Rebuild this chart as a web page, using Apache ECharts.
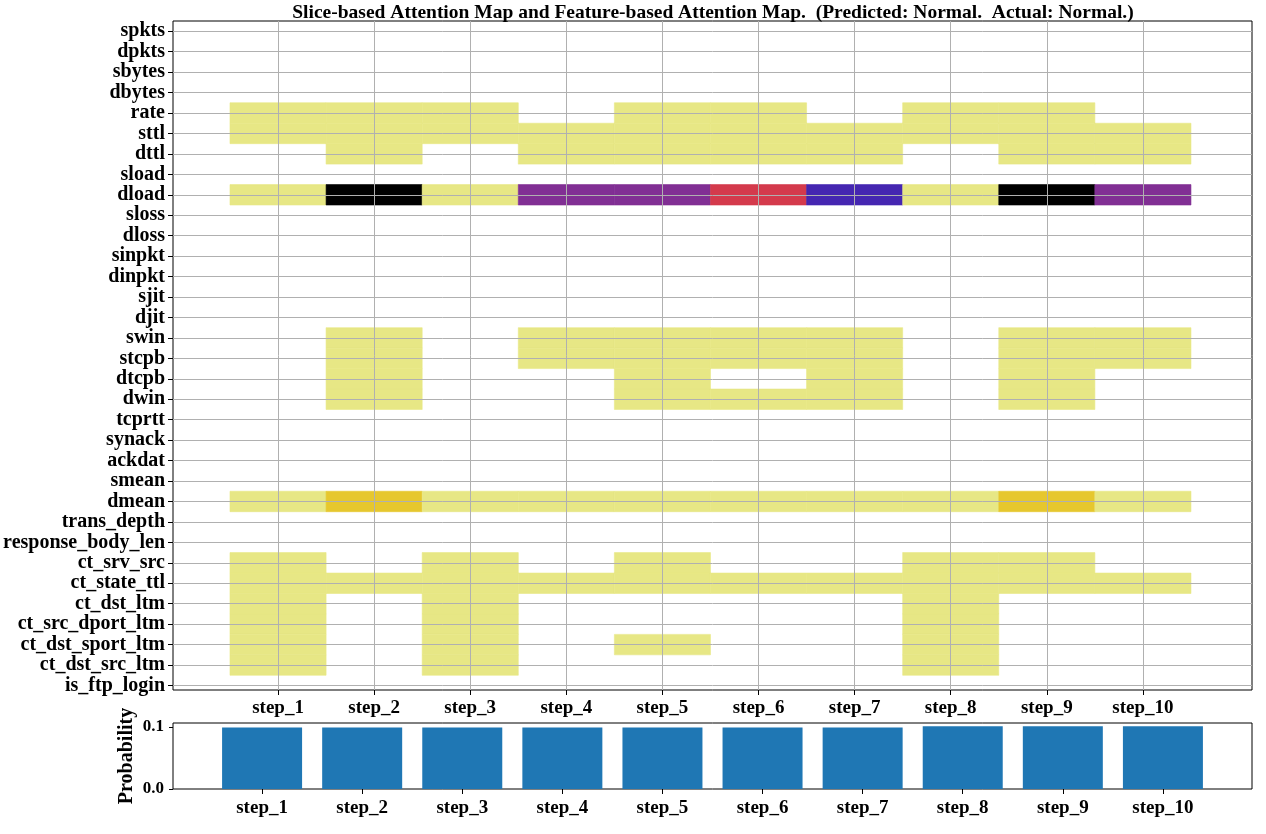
<!DOCTYPE html>
<html><head><meta charset="utf-8">
<script src="https://cdn.jsdelivr.net/npm/echarts@6/dist/echarts.min.js"></script>
<style>html,body{margin:0;padding:0;background:#fff}#c{width:1266px;height:834px}</style>
</head><body><div id="c"></div>
<script>
const titleText = 'Slice-based Attention Map and Feature-based Attention Map.  (Predicted: Normal.  Actual: Normal.)';
const probLabel = 'Probability';
const features = ['spkts','dpkts','sbytes','dbytes','rate','sttl','dttl','sload','dload','sloss','dloss','sinpkt','dinpkt','sjit','djit','swin','stcpb','dtcpb','dwin','tcprtt','synack','ackdat','smean','dmean','trans_depth','response_body_len','ct_srv_src','ct_state_ttl','ct_dst_ltm','ct_src_dport_ltm','ct_dst_sport_ltm','ct_dst_src_ltm','is_ftp_login'];
const steps = ['step_1','step_2','step_3','step_4','step_5','step_6','step_7','step_8','step_9','step_10'];
// attention per feature (rows) and step (columns), 0 = none
const attention = [
  [0,0,0,0,0,0,0,0,0,0],
  [0,0,0,0,0,0,0,0,0,0],
  [0,0,0,0,0,0,0,0,0,0],
  [0,0,0,0,0,0,0,0,0,0],
  [0.12,0.12,0.12,0,0.12,0.12,0,0.12,0.12,0],
  [0.12,0.12,0.12,0.12,0.12,0.12,0.12,0.12,0.12,0.12],
  [0,0.12,0,0.12,0.12,0.12,0.12,0,0.12,0.12],
  [0,0,0,0,0,0,0,0,0,0],
  [0.12,1.0,0.12,0.665,0.665,0.553,0.777,0.12,1.0,0.665],
  [0,0,0,0,0,0,0,0,0,0],
  [0,0,0,0,0,0,0,0,0,0],
  [0,0,0,0,0,0,0,0,0,0],
  [0,0,0,0,0,0,0,0,0,0],
  [0,0,0,0,0,0,0,0,0,0],
  [0,0,0,0,0,0,0,0,0,0],
  [0,0.12,0,0.12,0.12,0.12,0.12,0,0.12,0.12],
  [0,0.12,0,0.12,0.12,0.12,0.12,0,0.12,0.12],
  [0,0.12,0,0,0.12,0,0.12,0,0.12,0],
  [0,0.12,0,0,0.12,0.12,0.12,0,0.12,0],
  [0,0,0,0,0,0,0,0,0,0],
  [0,0,0,0,0,0,0,0,0,0],
  [0,0,0,0,0,0,0,0,0,0],
  [0,0,0,0,0,0,0,0,0,0],
  [0.12,0.225,0.12,0.12,0.12,0.12,0.12,0.12,0.225,0.12],
  [0,0,0,0,0,0,0,0,0,0],
  [0,0,0,0,0,0,0,0,0,0],
  [0.12,0,0.12,0,0.12,0,0,0.12,0.12,0],
  [0.12,0.12,0.12,0.12,0.12,0.12,0.12,0.12,0.12,0.12],
  [0.12,0,0.12,0,0,0,0,0.12,0,0],
  [0.12,0,0.12,0,0,0,0,0.12,0,0],
  [0.12,0,0.12,0,0.12,0,0,0.12,0,0],
  [0.12,0,0.12,0,0,0,0,0.12,0,0],
  [0,0,0,0,0,0,0,0,0,0]
];
const stepProb = [0.0994,0.0994,0.0994,0.0994,0.0994,0.0994,0.0994,0.1014,0.1014,0.1014];
const probTicks = [0, 0.1];
const cmap = ['#ffffff','#e6e680','#e6bf1a','#e68000','#ff4026','#993380','#4d26bf','#262680','#000000'];

const FONT = 'Liberation Serif';
const stepIdx = steps.map((s, i) => i);
const featIdx = features.map((f, i) => i);
const cells = [];
attention.forEach((row, i) => row.forEach((v, j) => cells.push([j, i, v])));
const barData = stepProb.map((v, i) => [i, v]);

const lab = (extra) => Object.assign({color:'#000', fontFamily:FONT, fontWeight:'bold', fontSize:19}, extra);

const chart = echarts.init(document.getElementById('c'));
chart.setOption({
  animation:false,
  backgroundColor:'#fff',
  graphic:[
    {type:'text', x:713, y:13, style:{text:titleText, fill:'#000', font:'bold 19.5px "Liberation Serif"', textAlign:'center', textVerticalAlign:'middle'}},
    {type:'text', x:127, y:756, rotation:Math.PI/2, style:{text:probLabel, fill:'#000', font:'bold 20px "Liberation Serif"', textAlign:'center', textVerticalAlign:'middle'}}
  ],
  visualMap:{type:'continuous', show:false, min:0, max:1, dimension:2, seriesIndex:0, inRange:{color:cmap}},
  grid:[
    {left:173, right:14, top:21, bottom:144, show:true, borderColor:'#000', borderWidth:1, backgroundColor:'transparent'},
    {left:173, right:14, top:723, bottom:45, show:true, borderColor:'#000', borderWidth:1, backgroundColor:'transparent'}
  ],
  xAxis:[
    {type:'value', gridIndex:0, min:-1.093, max:10.135, z:5, position:'bottom',
     axisLine:{show:false, onZero:false},
     axisTick:{show:true, length:5, customValues:stepIdx, lineStyle:{color:'#000'}},
     axisLabel:lab({customValues:stepIdx, margin:9, formatter:(v)=>steps[Math.round(v)]}),
     splitLine:{show:true, lineStyle:{color:'#b0b0b0', width:1}}},
    {type:'value', gridIndex:1, min:-0.89, max:9.89, position:'bottom',
     axisLine:{show:false, onZero:false},
     axisTick:{show:true, length:5, customValues:stepIdx, lineStyle:{color:'#000'}},
     axisLabel:lab({customValues:stepIdx, margin:10, formatter:(v)=>steps[Math.round(v)]}),
     splitLine:{show:false}}
  ],
  yAxis:[
    {type:'value', gridIndex:0, inverse:true, min:-0.5, max:32.22, z:5, position:'left',
     axisLine:{show:false, onZero:false},
     axisTick:{show:true, length:5, customValues:featIdx, lineStyle:{color:'#000'}},
     axisLabel:lab({customValues:featIdx, margin:8, fontSize:20, formatter:(v)=>features[Math.round(v)]}),
     splitLine:{show:true, lineStyle:{color:'#b0b0b0', width:1}}},
    {type:'value', gridIndex:1, min:0, max:0.1065, position:'left',
     axisLine:{show:false, onZero:false},
     axisTick:{show:true, length:4, customValues:probTicks, lineStyle:{color:'#000'}},
     axisLabel:lab({customValues:probTicks, margin:9, fontSize:17, formatter:(v)=>v.toFixed(1)}),
     splitLine:{show:false}}
  ],
  series:[
    {type:'custom', xAxisIndex:0, yAxisIndex:0, z:2, encode:{x:0, y:1}, data:cells,
     renderItem:(params, api) => {
       const v = api.value(2);
       if (!v) return null;
       const x = api.value(0), y = api.value(1);
       const p0 = api.coord([x - 0.5, y - 0.5]);
       const p1 = api.coord([x + 0.5, y + 0.5]);
       const c = api.visual('color');
       return {type:'rect', shape:{x:Math.min(p0[0],p1[0]), y:Math.min(p0[1],p1[1]), width:Math.abs(p1[0]-p0[0]), height:Math.abs(p1[1]-p0[1])}, style:{fill:c, stroke:c, lineWidth:0.6}};
     }},
    {type:'bar', xAxisIndex:1, yAxisIndex:1, data:barData, barWidth:80, itemStyle:{color:'#1f77b4'}}
  ]
});
</script></body></html>
